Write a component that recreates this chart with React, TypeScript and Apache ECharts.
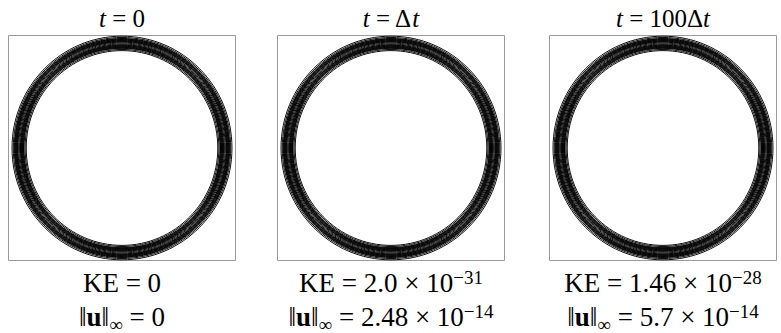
import { useEffect, useRef } from 'react';
import * as echarts from 'echarts';

// Contour levels of the ring-shaped field (radii, in axis units)
const contourRadii = [
  0.969, 0.958, 0.949, 0.9445, 0.94, 0.9355, 0.931, 0.9265, 0.922, 0.9175,
  0.91, 0.902, 0.895, 0.8905, 0.886, 0.8815, 0.877, 0.8725, 0.868, 0.8635,
  0.854, 0.844,
];

// Panel texts
const timeLabels = ['0', 'Δ', '100Δ'];
const keMantissas = ['0', '2.0 × 10', '1.46 × 10'];
const keExponents = ['', '−31', '−28'];
const normMantissas = ['0', '2.48 × 10', '5.7 × 10'];
const normExponents = ['', '−14', '−14'];

const FAMILY = 'Liberation Serif';

type Seg = { text: string; size: number; italic?: boolean; bold?: boolean; dy?: number };

let measureCtx: CanvasRenderingContext2D | null = null;
function measure(seg: Seg): number {
  try {
    if (!measureCtx) {
      measureCtx = document.createElement('canvas').getContext('2d');
    }
    if (measureCtx) {
      measureCtx.font = `${seg.italic ? 'italic ' : ''}${seg.bold ? 'bold ' : ''}${seg.size}px "${FAMILY}"`;
      return measureCtx.measureText(seg.text).width;
    }
  } catch (e) {
    /* fall through */
  }
  return seg.text.length * seg.size * 0.5;
}

export default function App() {
  const ref = useRef<HTMLDivElement>(null);

  useEffect(() => {
    const chart = echarts.init(ref.current!, null, { renderer: 'svg' });

    const boxLeft = [8.5, 277.5, 549.5];
    const boxWidth = 227;
    const boxTop = 35.5;
    const boxHeight = 225;

    const grids = boxLeft.map((l) => ({
      left: l,
      top: boxTop,
      width: boxWidth,
      height: boxHeight,
      show: true,
      borderColor: '#9a9a9a',
      borderWidth: 1,
      backgroundColor: 'transparent',
      containLabel: false,
    }));

    const xAxes = boxLeft.map((_, i) => ({
      type: 'value',
      gridIndex: i,
      min: -1,
      max: 1,
      show: false,
    }));
    const yAxes = boxLeft.map((_, i) => ({
      type: 'value',
      gridIndex: i,
      min: -0.975,
      max: 0.975,
      show: false,
    }));

    const series = boxLeft.map((_, i) => ({
      type: 'custom',
      xAxisIndex: i,
      yAxisIndex: i,
      silent: true,
      data: contourRadii.map((r) => [0, 0, r]),
      renderItem: (_params: any, api: any) => {
        const c = api.coord([api.value(0), api.value(1)]);
        const r = api.value(2);
        const s = api.size([r, r]);
        return {
          type: 'ellipse',
          shape: { cx: c[0], cy: c[1], rx: s[0], ry: s[1] },
          style: { fill: 'none', stroke: '#000', lineWidth: 0.95 },
        };
      },
    }));

    const graphics: any[] = [];
    const placeLine = (segs: Seg[], cx: number, y: number) => {
      const widths = segs.map(measure);
      const total = widths.reduce((a, b) => a + b, 0);
      let x = cx - total / 2;
      segs.forEach((seg, k) => {
        graphics.push({
          type: 'text',
          x,
          y: y + (seg.dy || 0),
          silent: true,
          style: {
            text: seg.text,
            fontFamily: FAMILY,
            fontSize: seg.size,
            fontStyle: seg.italic ? 'italic' : 'normal',
            fontWeight: seg.bold ? 'bold' : 'normal',
            fill: '#000',
            align: 'left',
            verticalAlign: 'middle',
          },
        });
        x += widths[k];
      });
    };

    boxLeft.forEach((l, i) => {
      const cx = l + boxWidth / 2;
      const title: Seg[] = [
        { text: 't', size: 25, italic: true },
        { text: ` = ${timeLabels[i]}`, size: 25 },
      ];
      if (i > 0) title.push({ text: 't', size: 25, italic: true });

      const ke: Seg[] = [{ text: `KE = ${keMantissas[i]}`, size: 27 }];
      if (keExponents[i]) ke.push({ text: keExponents[i], size: 19, dy: -6 });

      const nm: Seg[] = [
        { text: '‖', size: 27 },
        { text: 'u', size: 27, bold: true },
        { text: '‖', size: 27 },
        { text: '∞', size: 19, dy: 7 },
        { text: ` = ${normMantissas[i]}`, size: 27 },
      ];
      if (normExponents[i]) nm.push({ text: normExponents[i], size: 19, dy: -6 });

      placeLine(title, cx, 18.5);
      placeLine(ke, cx, 283);
      placeLine(nm, cx, 317);
    });

    chart.setOption({
      animation: false,
      backgroundColor: '#fff',
      grid: grids,
      xAxis: xAxes,
      yAxis: yAxes,
      series,
      graphic: graphics,
    } as any);

    return () => chart.dispose();
  }, []);

  return (
    <div
      ref={ref}
      style={{ position: 'absolute', left: 0, top: 0, width: 781, height: 333 }}
    />
  );
}
